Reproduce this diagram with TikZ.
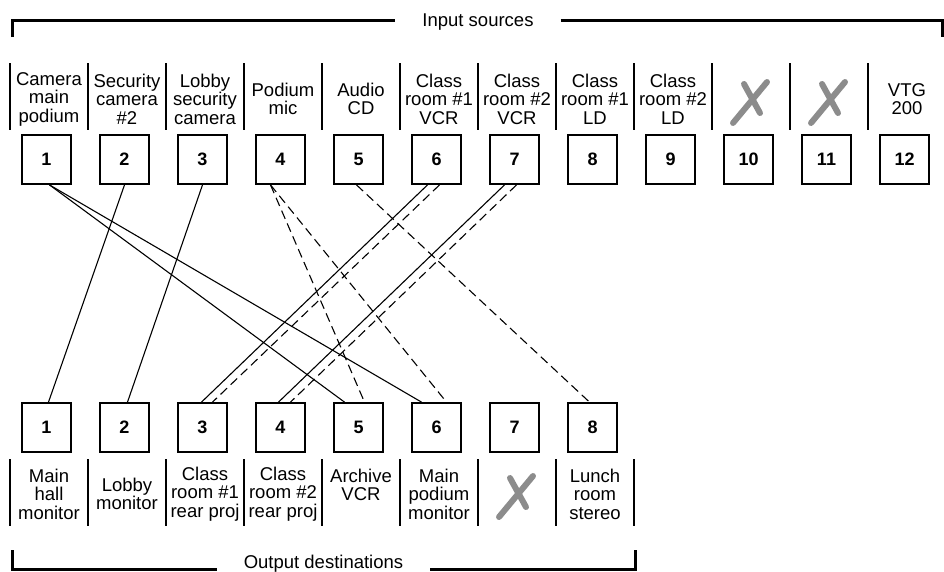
\documentclass[tikz,border=0pt]{standalone}
\usepackage{fontspec}
\setmainfont{Liberation Sans}

\begin{document}
\begin{tikzpicture}[
    x=1pt, y=-1pt,
    port/.style={draw, line width=1.8pt, minimum size=49pt, inner sep=0pt, font=\fontsize{18}{18}\selectfont\bfseries},
    lbl/.style={align=center, inner sep=0pt, font=\fontsize{18.5}{18.5}\selectfont},
    title/.style={inner xsep=27pt, inner ysep=0pt, font=\fontsize{18.5}{18.5}\selectfont},
    divider/.style={line width=2pt},
    bracket/.style={line width=3pt},
    video/.style={line width=1.1pt},
    audio/.style={line width=1.1pt, dash pattern=on 9pt off 5pt},
    nomark/.pic={\draw[line width=6pt, line cap=round, black!45] (-18,21) -- (16,-20) (-7,-18) -- (9,11);}
  ]
    \useasboundingbox (0,0) rectangle (944,571);

    % input side
    \node[title, anchor=base] (insrc) at (478,26) {Input sources};
    \draw[bracket] (12,37) |- ([yshift=6pt]insrc.base west);
    \draw[bracket] ([yshift=6pt]insrc.base east) -| (942,37);
    \foreach \k in {0,...,11}
      \draw[divider] ({10+78*\k},63) -- ({10+78*\k},130);
    \foreach \i/\txt in {1/{Camera\\main\\podium}, 2/{Security\\camera\\\#2}, 3/{Lobby\\security\\camera},
        4/{Podium\\mic}, 5/{Audio\\CD}, 6/{Class\\room \#1\\VCR}, 7/{Class\\room \#2\\VCR},
        8/{Class\\room \#1\\LD}, 9/{Class\\room \#2\\LD}, 12/{VTG\\200}}
      \node[lbl] (inlbl\i) at ({49+78*(\i-1)},99) {\txt};
    \pic at (751,102) {nomark};
    \pic at (829,102) {nomark};
    \foreach \i in {1,...,12}
      \node[port] (in\i) at ({46.5+78*(\i-1)},159.5) {\i};

    % output side
    \foreach \i in {1,...,8}
      \node[port] (out\i) at ({46.5+78*(\i-1)},427.5) {\i};
    \foreach \k in {0,...,8}
      \draw[divider] ({10+78*\k},459) -- ({10+78*\k},526);
    \foreach \i/\txt in {1/{Main\\hall\\monitor}, 2/{Lobby\\monitor}, 3/{Class\\room \#1\\rear proj},
        4/{Class\\room \#2\\rear proj}, 6/{Main\\podium\\monitor}, 8/{Lunch\\room\\stereo}}
      \node[lbl] (outlbl\i) at ({49+78*(\i-1)},494) {\txt};
    \node[lbl, yshift=9.25pt] (outlbl5) at (361,494) {Archive\\VCR};
    \pic at (517,496) {nomark};
    \node[title, anchor=base] (outdst) at (323.5,568) {Output destinations};
    \draw[bracket] (12,550) |- ([yshift=-1pt]outdst.base west);
    \draw[bracket] ([yshift=-1pt]outdst.base east) -| (635,550);

    % routes
    \draw[video] ([xshift=3pt]in1.south) -- ([xshift=-14pt]out5.north);
    \draw[video] ([xshift=3pt]in1.south) -- ([xshift=-15pt]out6.north);
    \draw[video] (in2.south) -- ([xshift=2pt]out1.north);
    \draw[video] (in3.south) -- ([xshift=3pt]out2.north);
    \draw[video] ([xshift=-9pt]in6.south) -- ([xshift=-1pt]out3.north);
    \draw[audio] ([xshift=3pt]in6.south) -- ([xshift=10pt]out3.north);
    \draw[video] ([xshift=-10pt]in7.south) -- ([xshift=-2pt]out4.north);
    \draw[audio] ([xshift=2pt]in7.south) -- ([xshift=10pt]out4.north);
    \draw[audio] ([xshift=-10pt]in4.south) -- ([xshift=6pt]out5.north);
    \draw[audio] ([xshift=-10pt]in4.south) -- ([xshift=10pt]out6.north);
    \draw[audio] ([xshift=-2pt]in5.south) -- ([xshift=-3pt]out8.north);
  \end{tikzpicture}
\end{document}
